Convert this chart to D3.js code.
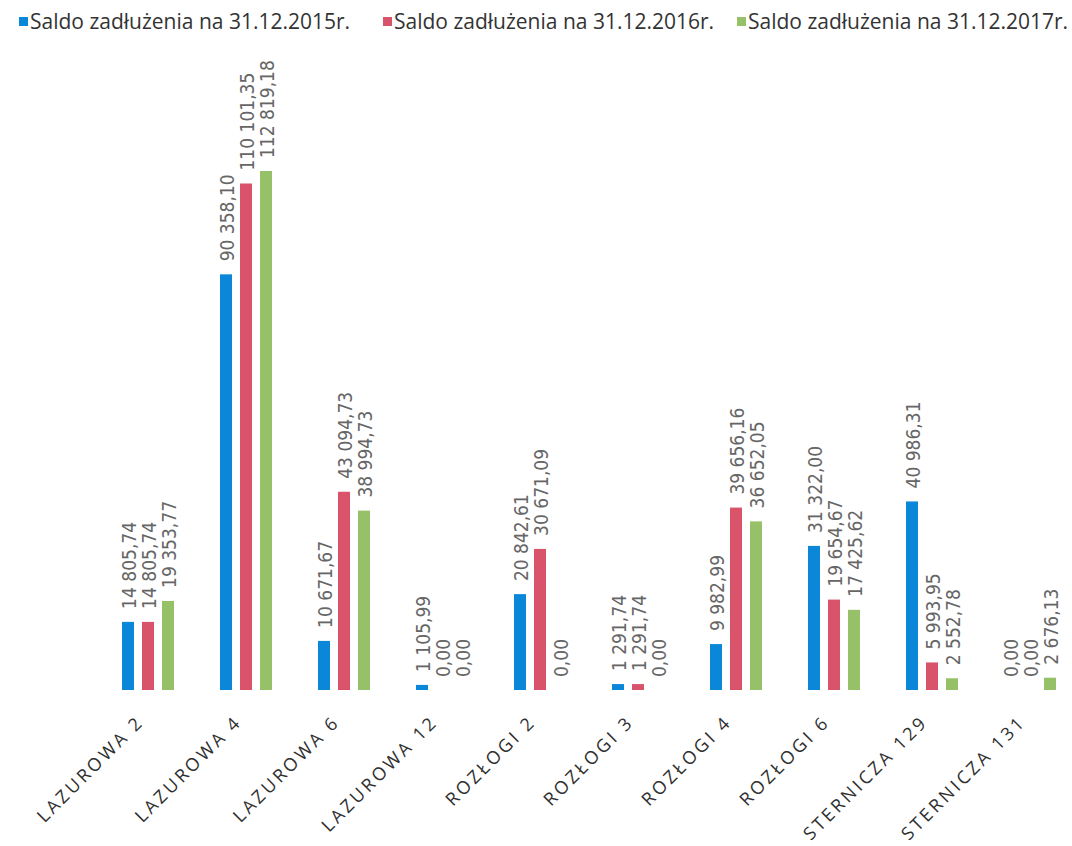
<!DOCTYPE html>
<html>
  <head>
    <meta charset="utf-8">
    <title>Saldo zadłużenia</title>
    <script type="text/javascript" src="https://cdn.jsdelivr.net/npm/d3@7"></script>
    <style type="text/css">
      body { margin: 0; background: white; }
      text { font-family: "Open Sans", sans-serif; }
    </style>
  </head>
  <body>
    <script type="text/javascript">
      var w = 1072;
      var h = 846;

      var categories = ['LAZUROWA 2', 'LAZUROWA 4', 'LAZUROWA 6', 'LAZUROWA 12', 'ROZŁOGI 2',
                        'ROZŁOGI 3', 'ROZŁOGI 4', 'ROZŁOGI 6', 'STERNICZA 129', 'STERNICZA 131'];
      var seriesNames = ['Saldo zadłużenia na 31.12.2015r.', 'Saldo zadłużenia na 31.12.2016r.', 'Saldo zadłużenia na 31.12.2017r.'];
      var saldo2015 = [14805.74, 90358.10, 10671.67, 1105.99, 20842.61, 1291.74, 9982.99, 31322.00, 40986.31, 0.00];
      var saldo2016 = [14805.74, 110101.35, 43094.73, 0.00, 30671.09, 1291.74, 39656.16, 19654.67, 5993.95, 0.00];
      var saldo2017 = [19353.77, 112819.18, 38994.73, 0.00, 0.00, 0.00, 36652.05, 17425.62, 2552.78, 2676.13];
      var colors = ['#0a87d9', '#d9546a', '#97c168'];

      var series = [saldo2015, saldo2016, saldo2017];

      var pl = d3.formatLocale({decimal: ',', thousands: ' ', grouping: [3], currency: ['', ' zł']});
      var fmt = pl.format(',.2f');

      var svg = d3.select('body')
                  .append('svg')
                  .attr('width', w)
                  .attr('height', h);

      var x0 = d3.scaleBand()
                 .domain(categories)
                 .range([99, 1079]);

      // three bars per group, 12px wide, 20px apart
      var x1 = d3.scaleBand()
                 .domain([0, 1, 2])
                 .range([-26, 26])
                 .paddingInner(0.4);

      var y = d3.scaleLinear()
                .domain([0, 112819.18])
                .range([690, 171]);

      // bars + value labels
      var groups = svg.selectAll('g.grp')
        .data(categories)
        .enter()
        .append('g')
        .attr('class', 'grp')
        .attr('transform', function(d) { return 'translate(' + (x0(d) + x0.bandwidth() / 2) + ',0)'; });

      groups.each(function(cat, ci) {
        var g = d3.select(this);
        var vals = series.map(function(s, si) { return {si: si, v: s[ci]}; });

        g.selectAll('rect')
          .data(vals)
          .enter()
          .append('rect')
          .attr('x', function(d) { return x1(d.si); })
          .attr('y', function(d) { return y(d.v); })
          .attr('width', x1.bandwidth())
          .attr('height', function(d) { return y(0) - y(d.v); })
          .attr('fill', function(d) { return colors[d.si]; });

        g.selectAll('text')
          .data(vals)
          .enter()
          .append('text')
          .text(function(d) { return fmt(d.v); })
          .attr('transform', function(d) {
            return 'translate(' + (x1(d.si) + x1.bandwidth() / 2 + 8) + ',' + (y(d.v) - 13) + ') rotate(-90)';
          })
          .attr('font-size', '19px')
          .style('font-family', '"DejaVu Sans Condensed", "DejaVu Sans", sans-serif')
          .attr('fill', '#666666')
          .attr('text-anchor', 'start');
      });

      // category labels
      svg.selectAll('text.cat')
        .data(categories)
        .enter()
        .append('text')
        .attr('class', 'cat')
        .text(function(d) { return d; })
        .attr('transform', function(d) {
          return 'translate(' + (x0(d) + x0.bandwidth() / 2 - 3) + ',723) rotate(-45)';
        })
        .attr('text-anchor', 'end')
        .attr('font-size', '18px')
        .attr('letter-spacing', '3px')
        .attr('fill', '#303030');

      // legend
      var legendX = [19, 383, 737];
      var legend = svg.selectAll('g.leg')
        .data(seriesNames)
        .enter()
        .append('g')
        .attr('class', 'leg')
        .attr('transform', function(d, i) { return 'translate(' + legendX[i] + ',0)'; });

      legend.append('rect')
        .attr('x', 0)
        .attr('y', 17)
        .attr('width', 9)
        .attr('height', 9)
        .attr('fill', function(d, i) { return colors[i]; });

      legend.append('text')
        .text(function(d) { return d; })
        .attr('x', 11)
        .attr('y', 29)
        .attr('font-size', '21px')
        .attr('fill', '#333333');
    </script>
  </body>
</html>
